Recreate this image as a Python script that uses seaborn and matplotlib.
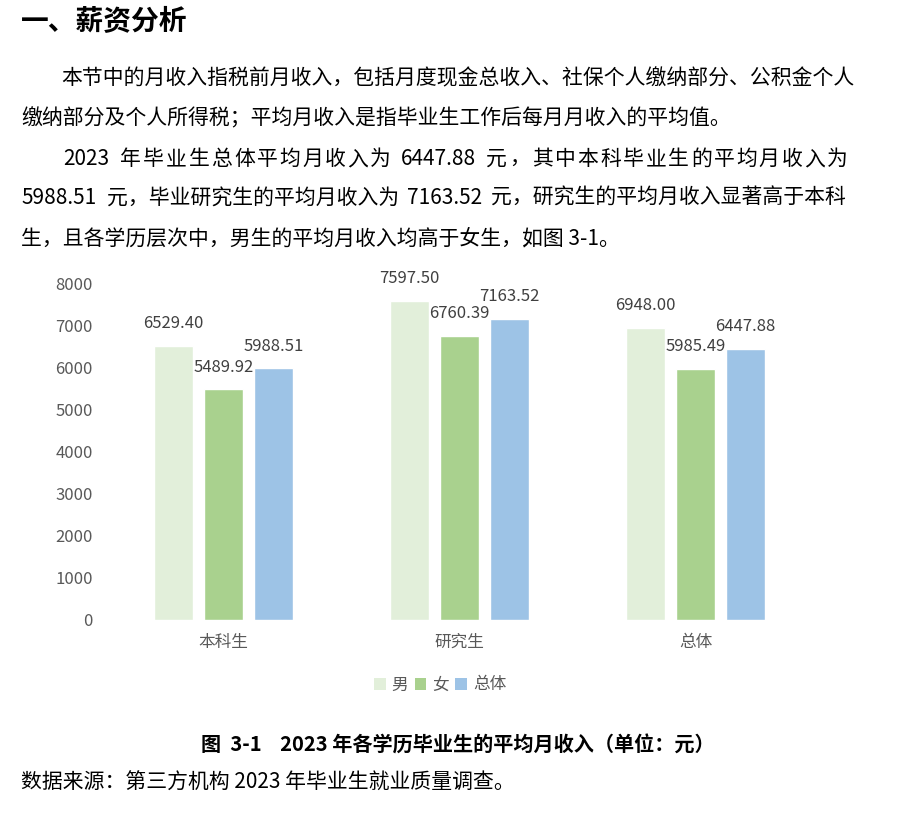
import matplotlib
matplotlib.use("Agg")
import matplotlib.pyplot as plt
import seaborn as sns
import pandas as pd
from matplotlib.patches import Patch

# ---- data ----
categories = ["本科生", "研究生", "总体"]
series_names = ["男", "女", "总体"]
male = [6529.40, 7597.50, 6948.00]
female = [5489.92, 6760.39, 5985.49]
total = [5988.51, 7163.52, 6447.88]
yticks = [0, 1000, 2000, 3000, 4000, 5000, 6000, 7000, 8000]
colors = ["#E2EFDA", "#A9D18E", "#9DC3E6"]

heading = "一、薪资分析"
line1 = "本节中的月收入指税前月收入，包括月度现金总收入、社保个人缴纳部分、公积金个人"
line2 = "缴纳部分及个人所得税；平均月收入是指毕业生工作后每月月收入的平均值。"
line3_parts = ["2023", "年毕业生总体平均月收入为", "6447.88", "元，其中本科毕业生的平均月收入为"]
line4_parts = ["5988.51", "元，毕业研究生的平均月收入为", "7163.52", "元，研究生的平均月收入显著高于本科"]
line5 = "生，且各学历层次中，男生的平均月收入均高于女生，如图 3-1。"
caption = "图  3-1    2023 年各学历毕业生的平均月收入（单位：元）"
source = "数据来源：第三方机构 2023 年毕业生就业质量调查。"

rows = []
for i, c in enumerate(categories):
    for s, vals in zip(series_names, [male, female, total]):
        rows.append({"学历": c, "性别": s, "平均月收入": vals[i]})
df = pd.DataFrame(rows)

sns.set_theme(style="white")
plt.rcParams["font.family"] = ["Noto Sans CJK SC", "DejaVu Sans"]

W, H = 916, 818
fig = plt.figure(figsize=(W / 100, H / 100), dpi=100)
fig.patch.set_facecolor("white")


def fx(px):
    return px / W


def fy(py):
    return 1 - py / H


# ---- chart ----
ax = fig.add_axes([fx(105.5), fy(620), 708 / W, 336 / H])
sns.barplot(data=df, x="学历", y="平均月收入", hue="性别", hue_order=series_names,
            palette=colors, width=0.636, gap=0.22, saturation=1, legend=False, ax=ax)
for cont in ax.containers:
    ax.bar_label(cont, fmt="%.2f", padding=10, fontsize=12, color="#404040")
ax.set_xlim(-0.5, 2.5)
ax.set_ylim(0, 8000)
ax.set_yticks(yticks)
ax.set_xlabel("")
ax.set_ylabel("")
for sp in ax.spines.values():
    sp.set_visible(False)
ax.tick_params(axis="y", length=0, pad=9, labelsize=12, labelcolor="#595959")
ax.tick_params(axis="x", length=0, pad=10, labelsize=12, labelcolor="#595959")
ax.patch.set_alpha(0)

handles = [Patch(facecolor=c, edgecolor="none") for c in colors]
fig.legend(handles, series_names, loc="center", bbox_to_anchor=(fx(440), fy(685)),
           ncol=3, frameon=False, fontsize=12, labelcolor="#595959",
           handlelength=0.7, handleheight=0.7, handletextpad=0.35, columnspacing=0.4)

# ---- text ----
FS = 15


def put(x, y, s, **kw):
    fig.text(fx(x), fy(y), s, fontsize=FS, color="black", ha="left", va="center", **kw)


def put_spaced(x, y, s, pitch):
    # justified CJK run: each full-width character at a fixed pitch
    for i, ch in enumerate(s):
        put(x + i * pitch, y, ch)


fig.text(fx(21), fy(22), heading, fontsize=20, fontweight="bold", color="black",
         ha="left", va="center")

put(61, 78, line1)
put(21, 118, line2)

# line 3 (justified with wider character spacing)
put(63, 159, line3_parts[0])
put_spaced(120.5, 159, line3_parts[1], 22.7)
put(401, 159, line3_parts[2])
put_spaced(486.5, 159, line3_parts[3], 22.7)

# line 4 (justified at the spaces)
put(21, 198, line4_parts[0])
put(106.5, 198, line4_parts[1])
put(406.5, 198, line4_parts[2])
put(491, 198, line4_parts[3])

put(21, 238, line5)

fig.text(fx(458), fy(745), caption, fontsize=14.5, fontweight="bold", color="black",
         ha="center", va="center")
put(21, 783, source)

fig.savefig("out.png", dpi=100, facecolor="white")
